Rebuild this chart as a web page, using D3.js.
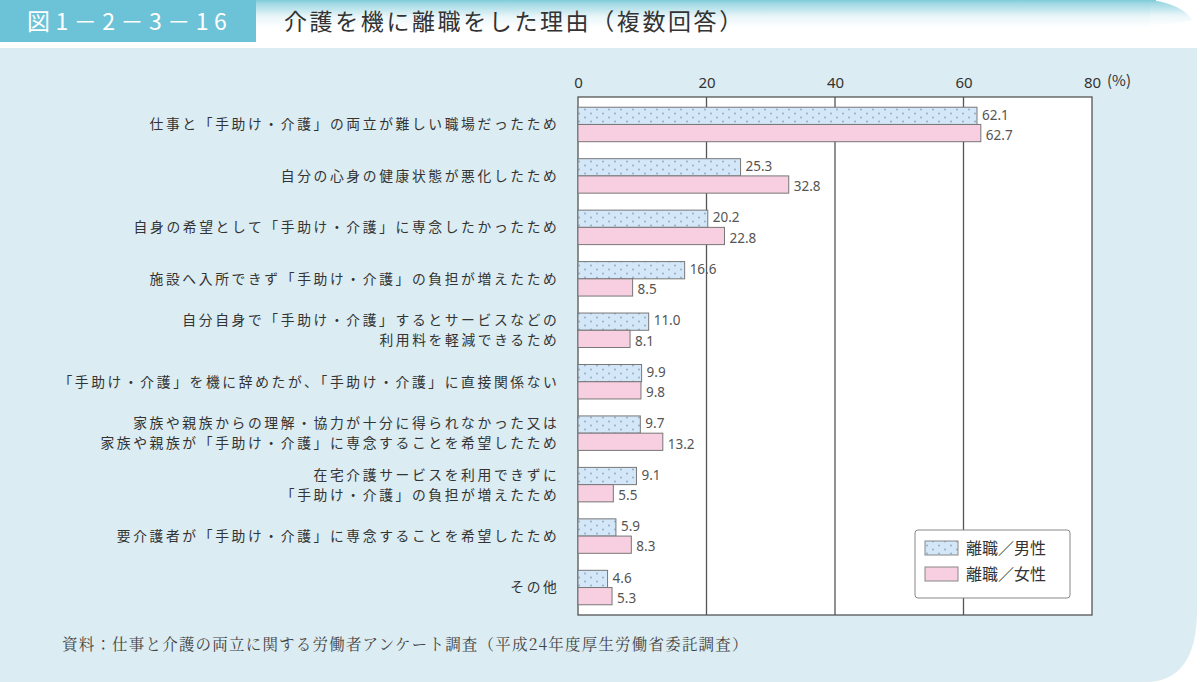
<!DOCTYPE html>
<html><head><meta charset="utf-8">
<script src="https://cdn.jsdelivr.net/npm/d3@7"></script>
<style>
html,body{margin:0;padding:0;background:#fff;}
svg{display:block;}
text{font-family:"Noto Sans CJK JP","Noto Sans",sans-serif;}
</style></head>
<body>
<svg id="chart" width="1200" height="682"></svg>
<script>
const categories = [
  ["仕事と「手助け・介護」の両立が難しい職場だったため"],
  ["自分の心身の健康状態が悪化したため"],
  ["自身の希望として「手助け・介護」に専念したかったため"],
  ["施設へ入所できず「手助け・介護」の負担が増えたため"],
  ["自分自身で「手助け・介護」するとサービスなどの","利用料を軽減できるため"],
  ["「手助け・介護」を機に辞めたが、「手助け・介護」に直接関係ない"],
  ["家族や親族からの理解・協力が十分に得られなかった又は","家族や親族が「手助け・介護」に専念することを希望したため"],
  ["在宅介護サービスを利用できずに","「手助け・介護」の負担が増えたため"],
  ["要介護者が「手助け・介護」に専念することを希望したため"],
  ["その他"]
];
const maleValues   = [62.1, 25.3, 20.2, 16.6, 11.0, 9.9, 9.7, 9.1, 5.9, 4.6];
const femaleValues = [62.7, 32.8, 22.8, 8.5, 8.1, 9.8, 13.2, 5.5, 8.3, 5.3];
const seriesNames = ["離職／男性", "離職／女性"];
const tickValues = [0, 20, 40, 60, 80];
const figNumber = "図1－2－3－16";
const title = "介護を機に離職をした理由（複数回答）";
const source = "資料：仕事と介護の両立に関する労働者アンケート調査（平成24年度厚生労働省委託調査）";

const svg = d3.select("#chart");
const W = 1200, H = 682;
const defs = svg.append("defs");

const hg = defs.append("linearGradient").attr("id","hg").attr("x1",0).attr("y1",0).attr("x2",0).attr("y2",1);
hg.append("stop").attr("offset","0").attr("stop-color","#7ccbd9");
hg.append("stop").attr("offset","0.12").attr("stop-color","#9fd8e3");
hg.append("stop").attr("offset","0.6").attr("stop-color","#eaf6f9");
hg.append("stop").attr("offset","1").attr("stop-color","#ffffff");

const pat = defs.append("pattern").attr("id","dots").attr("patternUnits","userSpaceOnUse")
  .attr("width",12).attr("height",8);
pat.append("rect").attr("width",12).attr("height",8).attr("fill","#d3e7f8");
pat.append("circle").attr("cx",3).attr("cy",1.5).attr("r",0.9).attr("fill","#8ea6bf");
pat.append("circle").attr("cx",9).attr("cy",5.5).attr("r",0.9).attr("fill","#8ea6bf");

const pTop = 48, pR = 1197, rx = 52, ry = 72;
svg.append("path")
  .attr("d", `M0,${pTop} H${pR} V${H-ry} Q${pR},${H} ${pR-rx},${H} H0 Z`)
  .attr("fill","#dbecf2");

svg.append("rect").attr("x",256).attr("y",0).attr("width",900).attr("height",28).attr("fill","url(#hg)");
svg.append("path").attr("d","M1150,0 Q1182,4 1192,20 Q1175,24 1150,26 Z").attr("fill","url(#hg)");

svg.append("rect").attr("x",0).attr("y",0).attr("width",256).attr("height",42).attr("fill","#6cc3d7");
svg.append("text").attr("x",27).attr("y",30).attr("fill","#fff")
  .attr("font-size",23).style("letter-spacing","5.5px").text(figNumber);
svg.append("text").attr("x",284).attr("y",30).attr("fill","#333")
  .attr("font-size",23).style("letter-spacing","2.6px").text(title);

const x0 = 578, x1 = 1092, yTop = 97, yBot = 615;
const x = d3.scaleLinear().domain([0,80]).range([x0,x1]);
const y = d3.scaleBand().domain(d3.range(categories.length)).range([yTop+2, yBot-2]).paddingInner(0.33).paddingOuter(0.16);

svg.append("rect").attr("x",x0).attr("y",yTop).attr("width",x1-x0).attr("height",yBot-yTop)
  .attr("fill","#fff").attr("stroke","#555").attr("stroke-width",1.3);

const axis = d3.axisTop(x).tickValues(tickValues).tickSize(0).tickFormat(d=>d);
const gAx = svg.append("g").attr("transform",`translate(0,${yTop-6})`).call(axis);
gAx.select(".domain").remove();
gAx.selectAll("text").attr("font-size",15).attr("fill","#333")
  .style("font-family","'Noto Sans',sans-serif");
svg.append("text").attr("x",x(80)+15).attr("y",yTop-6-5).attr("font-size",15).attr("fill","#333")
  .text("(%)");

svg.append("g").selectAll("line").data([20,40,60]).join("line")
  .attr("x1",d=>x(d)).attr("x2",d=>x(d)).attr("y1",yTop).attr("y2",yBot)
  .attr("stroke","#555").attr("stroke-width",1.3);

const bh = y.bandwidth()/2;
const g = svg.append("g");
categories.forEach((c,i)=>{
  const yy = y(i);
  g.append("rect").attr("x",x(0)).attr("y",yy).attr("width",x(maleValues[i])-x(0)).attr("height",bh)
    .attr("fill","url(#dots)").attr("stroke","#777").attr("stroke-width",1);
  g.append("rect").attr("x",x(0)).attr("y",yy+bh).attr("width",x(femaleValues[i])-x(0)).attr("height",bh)
    .attr("fill","#f8cfe0").attr("stroke","#777").attr("stroke-width",1);
  g.append("text").attr("x",x(maleValues[i])+5).attr("y",yy+bh/2-1).attr("dy","0.35em")
    .attr("font-size",13.5).attr("fill","#555").style("font-family","'Noto Sans',sans-serif")
    .text(maleValues[i].toFixed(1));
  g.append("text").attr("x",x(femaleValues[i])+5).attr("y",yy+bh*1.5+2).attr("dy","0.35em")
    .attr("font-size",13.5).attr("fill","#555").style("font-family","'Noto Sans',sans-serif")
    .text(femaleValues[i].toFixed(1));
  const cy = yy + bh;
  const n = c.length;
  c.forEach((line,j)=>{
    g.append("text").attr("x",559.5).attr("y",cy + (j-(n-1)/2)*20).attr("dy","0.36em")
      .attr("text-anchor","end").attr("font-size",13.8).style("letter-spacing","2.6px")
      .attr("fill","#333").text(line);
  });
});

const lg = svg.append("g");
lg.append("rect").attr("x",915).attr("y",530).attr("width",155).attr("height",68).attr("rx",3)
  .attr("fill","#fff").attr("stroke","#888").attr("stroke-width",1);
const lgFills = ["url(#dots)","#f8cfe0"];
seriesNames.forEach((s,i)=>{
  lg.append("rect").attr("x",925).attr("y",541+i*26).attr("width",33).attr("height",14)
    .attr("fill",lgFills[i]).attr("stroke","#888");
  lg.append("text").attr("x",966).attr("y",548+i*26).attr("dy","0.36em").attr("font-size",16)
    .attr("fill","#333").text(s);
});

svg.append("text").attr("x",62).attr("y",650).attr("font-size",15.5).attr("fill","#444")
  .style("letter-spacing","1.2px")
  .style("font-family","'Noto Serif CJK JP','Noto Sans CJK JP',serif").text(source);
</script>
</body></html>
